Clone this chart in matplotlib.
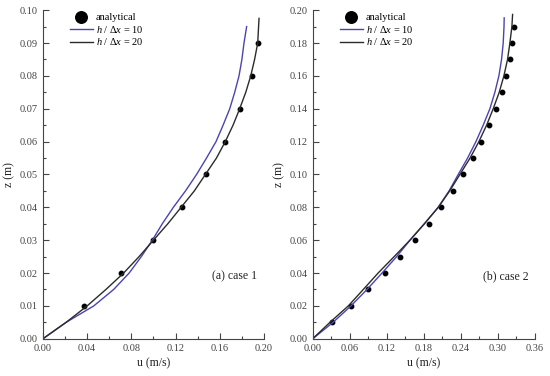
import matplotlib.pyplot as plt
from matplotlib.ticker import MultipleLocator, FormatStrFormatter

plt.rcParams['font.family'] = ['Liberation Serif', 'DejaVu Serif']
plt.rcParams['mathtext.fontset'] = 'custom'
plt.rcParams['mathtext.it'] = 'Liberation Serif:italic'
plt.rcParams['mathtext.rm'] = 'Liberation Serif'

# case 1 (a)
z1_pts = [0.01, 0.02, 0.03, 0.04, 0.05, 0.06, 0.07, 0.08, 0.09]
u1_pts = [0.0368, 0.0706, 0.0998, 0.1255, 0.1472, 0.165, 0.1786, 0.1887, 0.1946]

z1_20 = [0, 0.005, 0.01, 0.015, 0.02, 0.025, 0.03, 0.035, 0.04, 0.045, 0.05,
         0.055, 0.06, 0.065, 0.07, 0.075, 0.08, 0.085, 0.09, 0.0975]
u1_20 = [0, 0.021, 0.040, 0.057, 0.073, 0.087, 0.100, 0.113, 0.125, 0.137, 0.147,
         0.157, 0.165, 0.172, 0.178, 0.1835, 0.188, 0.1915, 0.1943, 0.1955]

z1_10 = [0, 0.005, 0.01, 0.015, 0.02, 0.025, 0.03, 0.035, 0.04, 0.045, 0.05,
         0.055, 0.06, 0.065, 0.07, 0.075, 0.08, 0.085, 0.09, 0.095]
u1_10 = [0, 0.021, 0.046, 0.064, 0.078, 0.089, 0.099, 0.108, 0.118, 0.129, 0.139,
         0.148, 0.1566, 0.163, 0.169, 0.1735, 0.1774, 0.180, 0.1819, 0.1843]

# case 2 (b)
z2_pts = [0.01, 0.02, 0.03, 0.04, 0.05, 0.06, 0.07, 0.08, 0.09, 0.10,
          0.11, 0.12, 0.13, 0.14, 0.15, 0.16, 0.17, 0.18, 0.19]
u2_pts = [0.0313, 0.0615, 0.090, 0.117, 0.1419, 0.1662, 0.1878, 0.2080, 0.2272, 0.2440,
          0.2595, 0.2733, 0.2855, 0.2963, 0.306, 0.3136, 0.319, 0.3228, 0.326]

z2_20 = [0, 0.01, 0.02, 0.03, 0.04, 0.05, 0.06, 0.07, 0.08, 0.09, 0.10,
         0.11, 0.12, 0.13, 0.14, 0.15, 0.16, 0.17, 0.18, 0.19, 0.1974]
u2_20 = [0, 0.028, 0.0577, 0.082, 0.106, 0.132, 0.1576, 0.181, 0.2034, 0.222, 0.2385,
         0.255, 0.2693, 0.2818, 0.2925, 0.3022, 0.3098, 0.3157, 0.3195, 0.3228, 0.3239]

z2_10 = [0, 0.01, 0.02, 0.03, 0.04, 0.05, 0.06, 0.07, 0.08, 0.09, 0.10,
         0.11, 0.12, 0.13, 0.14, 0.15, 0.16, 0.17, 0.18, 0.19, 0.1953]
u2_10 = [0, 0.033, 0.062, 0.088, 0.1123, 0.136, 0.1576, 0.181, 0.2034, 0.221, 0.2358,
         0.251, 0.2645, 0.2763, 0.2871, 0.2952, 0.3017, 0.306, 0.3087, 0.3100, 0.3103]

blue = '#4a44b0'
dark = '#2b2b2b'
grey = '#444444'

fig = plt.figure(figsize=(5.5, 3.76), dpi=100)
ax1 = fig.add_axes([0.078, 0.099, 0.402, 0.874])
ax2 = fig.add_axes([0.5685, 0.099, 0.404, 0.874])

panels = [
    (ax1, u1_pts, z1_pts, u1_10, z1_10, u1_20, z1_20, 0.20, 0.10, 0.04, 0.01, '(a) case 1'),
    (ax2, u2_pts, z2_pts, u2_10, z2_10, u2_20, z2_20, 0.36, 0.20, 0.06, 0.02, '(b) case 2'),
]

for ax, up, zp, u10, z10, u20, z20, xmax, ymax, xstep, ystep, tag in panels:
    ax.plot(up, zp, 'o', color='black', ms=3.2, label='analytical')
    ax.plot(u10, z10, color=blue, lw=1.0, label=r'$h$ / $\Delta x$ = 10')
    ax.plot(u20, z20, color=dark, lw=1.0, label=r'$h$ / $\Delta x$ = 20')
    ax.set_xlim(0, xmax)
    ax.set_ylim(0, ymax)
    ax.xaxis.set_major_locator(MultipleLocator(xstep))
    ax.xaxis.set_minor_locator(MultipleLocator(xstep / 2))
    ax.yaxis.set_major_locator(MultipleLocator(ystep))
    ax.yaxis.set_minor_locator(MultipleLocator(ystep / 2))
    ax.xaxis.set_major_formatter(FormatStrFormatter('%.2f'))
    ax.yaxis.set_major_formatter(FormatStrFormatter('%.2f'))
    ax.tick_params(which='both', direction='in', colors=grey, labelsize=7.5, width=0.8)
    ax.tick_params(which='major', length=4)
    ax.tick_params(which='minor', length=2)
    ax.spines['top'].set_visible(False)
    ax.spines['right'].set_visible(False)
    for s in ['left', 'bottom']:
        ax.spines[s].set_color(grey)
        ax.spines[s].set_linewidth(0.8)
    ax.set_xlabel('u (m/s)', fontsize=8.5, color='#222222', labelpad=3)
    ax.set_ylabel('z (m)', fontsize=8.5, color='#222222', labelpad=3)
    ax.text(0.97, 0.19, tag, transform=ax.transAxes, ha='right', va='center',
            fontsize=8.5, color='#222222')
    leg = ax.legend(loc='upper left', bbox_to_anchor=(0.08, 1.02), frameon=False,
                    fontsize=7.5, labelspacing=0.15, handlelength=2.2,
                    handletextpad=0.3, markerscale=2.6)

fig.savefig('out.png', dpi=100)
